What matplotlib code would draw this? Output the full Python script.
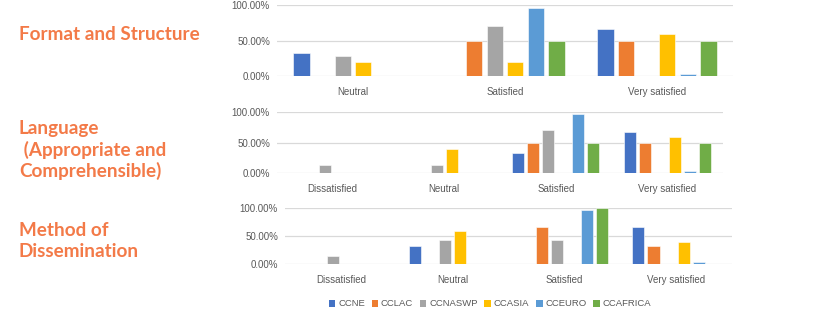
import matplotlib
matplotlib.use("Agg")
import matplotlib.pyplot as plt
from matplotlib.patches import Patch
from matplotlib.ticker import FuncFormatter

series = ["CCNE", "CCLAC", "CCNASWP", "CCASIA", "CCEURO", "CCAFRICA"]
colors = ["#4472C4", "#ED7D31", "#A5A5A5", "#FFC000", "#5B9BD5", "#70AD47"]

# Panel 1: Format and Structure
cats1 = ["Neutral", "Satisfied", "Very satisfied"]
vals1 = {
    "CCNE":     [33.33, 0, 66.67],
    "CCLAC":    [0, 50, 50],
    "CCNASWP":  [28.57, 71.43, 0],
    "CCASIA":   [20, 20, 60],
    "CCEURO":   [0, 96.15, 3.85],
    "CCAFRICA": [0, 50, 50],
}
# Panel 2: Language
cats2 = ["Dissatisfied", "Neutral", "Satisfied", "Very satisfied"]
vals2 = {
    "CCNE":     [0, 0, 33.33, 66.67],
    "CCLAC":    [0, 0, 50, 50],
    "CCNASWP":  [14.29, 14.29, 71.43, 0],
    "CCASIA":   [0, 40, 0, 60],
    "CCEURO":   [0, 0, 96.15, 3.85],
    "CCAFRICA": [0, 0, 50, 50],
}
# Panel 3: Method of Dissemination
cats3 = ["Dissatisfied", "Neutral", "Satisfied", "Very satisfied"]
vals3 = {
    "CCNE":     [0, 33.33, 0, 66.67],
    "CCLAC":    [0, 0, 66.67, 33.33],
    "CCNASWP":  [14.29, 42.86, 42.86, 0],
    "CCASIA":   [0, 60, 0, 40],
    "CCEURO":   [0, 0, 96.15, 3.85],
    "CCAFRICA": [0, 0, 100, 0],
}

titles = ["Format and Structure",
          "Language\n (Appropriate and\nComprehensible)",
          "Method of\nDissemination"]

W, H = 823, 312
fig = plt.figure(figsize=(W / 100, H / 100), dpi=100)

def frac(x0, x1, ytop, ybot):
    return [x0 / W, 1 - ybot / H, (x1 - x0) / W, (ybot - ytop) / H]

axes_rects = [frac(277, 733, 5.3, 76.3),
              frac(277, 723, 112, 173.3),
              frac(285, 732, 208.3, 264.3)]

tick_col = "#595959"
grid_col = "#D9D9D9"
step, bw = 0.135, 0.108

for rect, cats, vals in zip(axes_rects, [cats1, cats2, cats3], [vals1, vals2, vals3]):
    ax = fig.add_axes(rect)
    n = len(cats)
    for i, s in enumerate(series):
        xs = [c + (i - 2.5) * step for c in range(n)]
        ax.bar(xs, vals[s], width=bw, color=colors[i], zorder=3,
               edgecolor="white", linewidth=0.4)
    ax.set_xlim(-0.5, n - 0.5)
    ax.set_ylim(0, 100)
    ax.set_yticks([0, 50, 100])
    ax.yaxis.set_major_formatter(FuncFormatter(lambda v, p: f"{v:.2f}%"))
    ax.set_xticks(range(n))
    ax.set_xticklabels(cats)
    ax.grid(axis="y", color=grid_col, linewidth=0.9, zorder=0)
    for sp in ax.spines.values():
        sp.set_visible(False)
    ax.tick_params(axis="both", length=0, labelsize=7, labelcolor=tick_col,
                   labelfontfamily="Liberation Sans")
    ax.tick_params(axis="x", pad=8)
    ax.tick_params(axis="y", pad=5)

orange = "#F37A48"
fig.text(19 / W, 1 - 35 / H, titles[0], color=orange, fontsize=13.6,
         fontweight="bold", family="Lato", va="center", ha="left")
fig.text(19 / W, 1 - 150 / H, titles[1], color=orange, fontsize=13.6,
         fontweight="bold", family="Lato", va="center", ha="left", linespacing=1.25)
fig.text(19 / W, 1 - 241 / H, titles[2], color=orange, fontsize=13.6,
         fontweight="bold", family="Lato", va="center", ha="left", linespacing=1.25)

handles = [Patch(facecolor=c, edgecolor="none", label=s) for s, c in zip(series, colors)]
fig.legend(handles=handles, loc="center", bbox_to_anchor=(490 / W, 1 - 304 / H),
           ncol=6, frameon=False, handlelength=0.7, handleheight=0.7,
           handletextpad=0.3, columnspacing=0.7, labelcolor=tick_col,
           prop={"family": "Liberation Sans", "size": 6.8})

fig.savefig("out.png", dpi=100)
